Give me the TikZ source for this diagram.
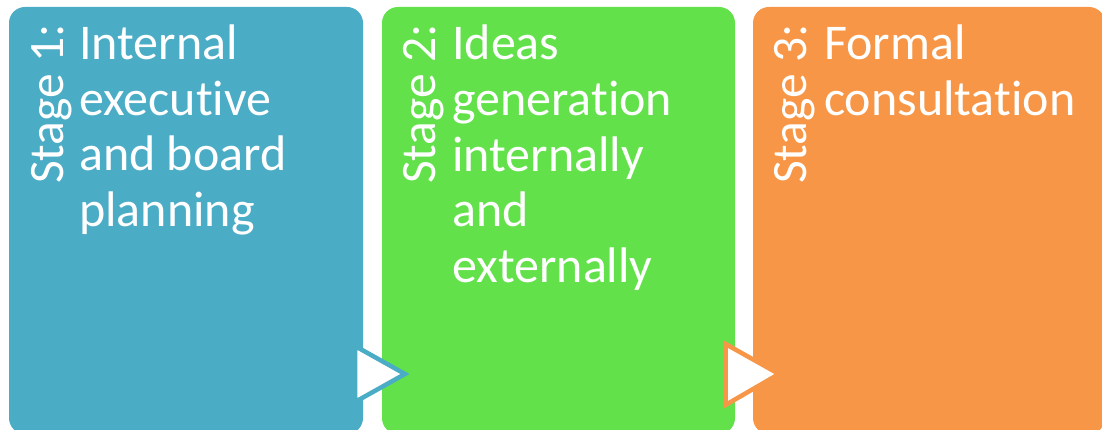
\documentclass[tikz,border=0pt]{standalone}
\usepackage{fontspec}
\setmainfont[Ligatures={NoCommon}]{Carlito}
\definecolor{cblue}{HTML}{4BACC6}
\definecolor{cgreen}{HTML}{62E14A}
\definecolor{corange}{HTML}{F79646}
\begin{document}
\begin{tikzpicture}[x=1pt,y=-1pt,
  stagebox/.style={rounded corners=16pt},
  maintext/.style={text=white,font=\fontsize{50}{55.5}\selectfont,align=left,anchor=base west,inner sep=0pt},
  stagelabel/.style={text=white,font=\fontsize{49.5}{55.5}\selectfont,rotate=90,anchor=base west,inner sep=0pt},
  arrowtri/.style={fill=white,line width=4.5pt,line join=miter}]
\useasboundingbox (0,0) rectangle (1102,430);
\clip (0,0) rectangle (1102,430);
% boxes
\fill[cblue,stagebox] (9,7) rectangle (363,434);
\fill[cgreen,stagebox] (382,7) rectangle (735,434);
\fill[corange,stagebox] (753,7) rectangle (1105,434);
% rotated stage labels
\node[stagelabel] (s1) at (63,184) {Stage 1:};
\node[stagelabel] (s2) at (435,184) {Stage 2:};
\node[stagelabel] (s3) at (806,184) {Stage 3:};
% main texts (anchor is the baseline of the last line)
\node[maintext] (t1) at (79,226.5) {Internal\\executive\\and board\\planning};
\node[maintext] (t2) at (452,282) {Ideas\\generation\\internally\\and\\externally};
\node[maintext] (t3) at (824,115.5) {Formal\\consultation};
% arrow triangles
\coordinate (a1t) at (355,346);
\coordinate (a1p) at (405,374);
\coordinate (a1b) at (355,402);
\draw[arrowtri,draw=cblue] (a1t) -- (a1p) -- (a1b) -- cycle;
\coordinate (a2t) at (725.5,344);
\coordinate (a2p) at (779,374);
\coordinate (a2b) at (725.5,405);
\draw[arrowtri,draw=corange] (a2t) -- (a2p) -- (a2b) -- cycle;
\end{tikzpicture}
\end{document}
